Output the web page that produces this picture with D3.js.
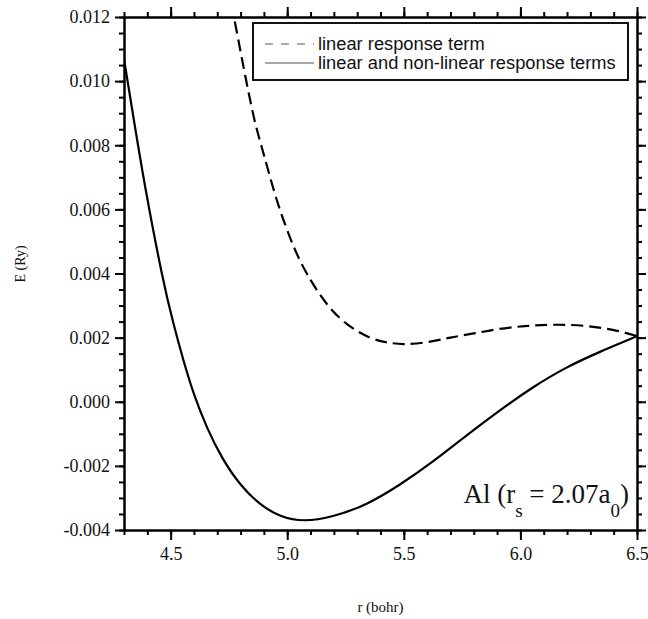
<!DOCTYPE html>
<html>
<head>
<meta charset="utf-8">
<script src="https://cdn.jsdelivr.net/npm/d3@7"></script>
<style>
  body { margin: 0; background: #fff; }
  svg { display: block; }
</style>
</head>
<body>
<div id="chart"></div>
<script>
// values
const solidR = [4.300, 4.340, 4.390, 4.467, 4.511, 4.554, 4.597, 4.655, 4.720, 4.797, 4.883, 4.969, 5.069, 5.198, 5.341, 5.483, 5.626, 5.770, 5.912, 6.055, 6.198, 6.341, 6.500];
const solidE = [0.01069, 0.00889, 0.00667, 0.00377, 0.00245, 0.00130, 0.00026, -0.00082, -0.00177, -0.00260, -0.00322, -0.00359, -0.00375, -0.00359, -0.00322, -0.00260, -0.00187, -0.00104, -0.00026, 0.00047, 0.00109, 0.00156, 0.00205];

const dashR = [4.76, 4.79, 4.85, 4.90, 4.955, 5.03, 5.10, 5.17, 5.255, 5.355, 5.43, 5.50, 5.60, 5.70, 5.80, 5.91, 6.02, 6.13, 6.27, 6.41, 6.50];
const dashE = [0.0124, 0.0113, 0.0091, 0.0077, 0.0063, 0.0048, 0.0038, 0.00305, 0.00243, 0.0020, 0.00185, 0.0018, 0.00186, 0.0020, 0.00213, 0.00227, 0.00236, 0.0024, 0.00237, 0.00222, 0.00205];

const xMajor = [4.5, 5.0, 5.5, 6.0, 6.5];
const yMajor = [-0.004, -0.002, 0.000, 0.002, 0.004, 0.006, 0.008, 0.010, 0.012];
const legendLabels = ["linear response term", "linear and non-linear response terms"];

const W = 648, H = 619;
const m = {left: 124, top: 17, right: 11, bottom: 89};
const iw = W - m.left - m.right, ih = H - m.top - m.bottom;

const svg = d3.select("#chart").append("svg")
  .attr("width", W).attr("height", H);

const x = d3.scaleLinear().domain([4.3, 6.5]).range([0, iw]);
const y = d3.scaleLinear().domain([-0.004, 0.012]).range([ih, 0]);

const g = svg.append("g").attr("transform", `translate(${m.left},${m.top})`);

svg.append("defs").append("clipPath").attr("id", "clip")
  .append("rect").attr("width", iw).attr("height", ih);

const serif = "'Liberation Serif', 'DejaVu Serif', serif";
const sans = "'Liberation Sans', Arial, sans-serif";

// minor ticks
const xMinor = d3.range(43, 66).map(d => d / 10);
const yMinor = d3.range(-8, 25).map(d => d / 2000);

function styleAxis(sel) {
  sel.attr("font-family", serif).attr("font-size", 18);
  sel.select(".domain").attr("stroke", "#000").attr("stroke-width", 2);
  sel.selectAll(".tick line").attr("stroke", "#000").attr("stroke-width", 2);
  sel.selectAll("text").attr("fill", "#111");
}

// bottom
g.append("g").attr("transform", `translate(0,${ih})`)
  .call(d3.axisBottom(x).tickValues(xMinor).tickSize(5).tickFormat("").tickSizeOuter(0))
  .call(styleAxis);
g.append("g").attr("transform", `translate(0,${ih})`)
  .call(d3.axisBottom(x).tickValues(xMajor).tickSize(10).tickPadding(7).tickFormat(d3.format(".1f")).tickSizeOuter(0))
  .call(styleAxis);
// top
g.append("g")
  .call(d3.axisTop(x).tickValues(xMinor).tickSize(5).tickFormat("").tickSizeOuter(0))
  .call(styleAxis);
g.append("g")
  .call(d3.axisTop(x).tickValues(xMajor).tickSize(10).tickFormat("").tickSizeOuter(0))
  .call(styleAxis);
// left
g.append("g")
  .call(d3.axisLeft(y).tickValues(yMinor).tickSize(5).tickFormat("").tickSizeOuter(0))
  .call(styleAxis);
g.append("g")
  .call(d3.axisLeft(y).tickValues(yMajor).tickSize(9).tickPadding(5).tickFormat(d3.format(".3f")).tickSizeOuter(0))
  .call(styleAxis)
  .selectAll("text").text(d => d3.format(".3f")(d).replace("−", "-"));
// right
g.append("g").attr("transform", `translate(${iw},0)`)
  .call(d3.axisRight(y).tickValues(yMinor).tickSize(5).tickFormat("").tickSizeOuter(0))
  .call(styleAxis);
g.append("g").attr("transform", `translate(${iw},0)`)
  .call(d3.axisRight(y).tickValues(yMajor).tickSize(9).tickFormat("").tickSizeOuter(0))
  .call(styleAxis);

// curves
const dashLine = d3.line()
  .x(d => x(d[0])).y(d => y(d[1]))
  .curve(d3.curveNatural);
const solidLine = d3.line()
  .x(d => x(d[0])).y(d => y(d[1]))
  .curve(d3.curveBasis);

const plot = g.append("g").attr("clip-path", "url(#clip)");

plot.append("path")
  .datum(d3.zip(dashR, dashE))
  .attr("d", dashLine)
  .attr("fill", "none").attr("stroke", "#000")
  .attr("stroke-width", 2.2)
  .attr("stroke-dasharray", "12,6");

plot.append("path")
  .datum(d3.zip(solidR, solidE))
  .attr("d", solidLine)
  .attr("fill", "none").attr("stroke", "#000")
  .attr("stroke-width", 2.2);

// legend
const lg = svg.append("g").attr("transform", "translate(253,23)");
lg.append("rect").attr("width", 375).attr("height", 57)
  .attr("fill", "#fff").attr("stroke", "#111").attr("stroke-width", 2);
legendLabels.forEach((t, i) => {
  const yy = 21 + i * 19;
  lg.append("line").attr("x1", 12).attr("x2", 61).attr("y1", yy).attr("y2", yy)
    .attr("stroke", "#555").attr("stroke-width", 1)
    .attr("stroke-dasharray", i === 0 ? "8,8" : null);
  lg.append("text").attr("x", 65).attr("y", yy).attr("dy", "0.35em")
    .attr("font-family", sans).attr("font-size", 18.3).attr("fill", "#111")
    .text(t);
});

// annotation
const ann = svg.append("text")
  .attr("x", 629).attr("y", 503)
  .attr("text-anchor", "end")
  .attr("font-family", serif).attr("font-size", 27).attr("fill", "#111");
ann.append("tspan").text("Al (r");
ann.append("tspan").attr("dy", 14).attr("font-size", 19).text("s");
ann.append("tspan").attr("dy", -14).text(" = 2.07a");
ann.append("tspan").attr("dy", 14).attr("font-size", 19).text("0");
ann.append("tspan").attr("dy", -14).text(")");

// axis titles
svg.append("text")
  .attr("x", m.left + iw / 2).attr("y", 612)
  .attr("text-anchor", "middle")
  .attr("font-family", serif).attr("font-size", 15).attr("fill", "#111")
  .text("r (bohr)");

svg.append("text")
  .attr("transform", "translate(25,264) rotate(-90)")
  .attr("text-anchor", "middle")
  .attr("font-family", serif).attr("font-size", 14).attr("fill", "#111")
  .text("E (Ry)");
</script>
</body>
</html>
